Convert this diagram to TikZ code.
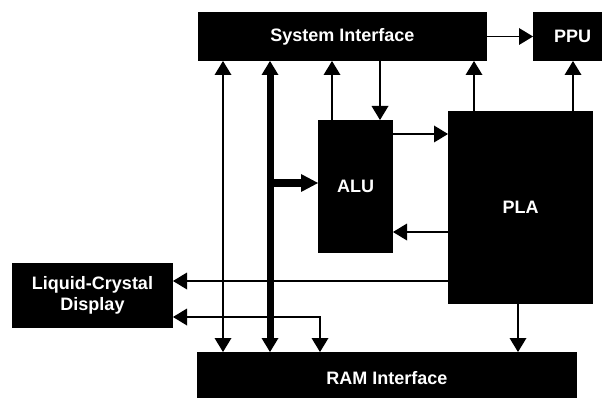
\documentclass[tikz,border=0pt]{standalone}
\usepackage{fontspec}
\setsansfont{Liberation Sans}
\usetikzlibrary{arrows.meta}

\begin{document}
\begin{tikzpicture}[
  x=1pt,y=-1pt,
  >={Triangle[length=14pt,width=17pt,line width=0pt]},
  blk/.style={fill=black,text=white,inner sep=0pt,outer sep=0pt,align=center,
    font=\sffamily\bfseries\fontsize{18}{20.5}\selectfont},
  ln/.style={->,line width=1.5pt},
  bus/.style={<->,line width=7pt}
]
\clip (0,0) rectangle (602,398);
% blocks
\node[blk,minimum width=289pt,minimum height=49pt] (si) at (342.5,36.5) {System Interface};
\node[blk,minimum width=79pt,minimum height=49pt] (ppu) at (572.5,36.5) {PPU};
\node[blk,minimum width=75pt,minimum height=133pt] (alu) at (355.5,186.5) {ALU};
\node[blk,minimum width=145pt,minimum height=193pt] (pla) at (520.5,207.5) {PLA};
\node[blk,minimum width=161pt,minimum height=65pt] (lcd) at (92.5,295.5) {Liquid-Crystal\\Display};
\node[blk,minimum width=380pt,minimum height=52pt] (ram) at (387,378) {RAM Interface};
% where the lines run
\coordinate (b1) at (223,0);
\coordinate (b2) at (270,0);
\coordinate (b3) at (320,0);
\coordinate (b4) at (332,0);
\coordinate (b5) at (380,0);
\coordinate (b6) at (474,0);
\coordinate (b7) at (518,0);
\coordinate (b8) at (573,0);
\coordinate (r1) at (0,134);
\coordinate (r2) at (0,183);
\coordinate (r3) at (0,232);
\coordinate (r4) at (0,281);
\coordinate (r5) at (0,317);
% connectors
\draw[ln] (si.east) -- (ppu.west);
\draw[ln,<->] (si.south -| b1) -- (ram.north -| b1);
\draw[bus] (si.south -| b2) -- (ram.north -| b2);
\draw[->,line width=8pt,>={Triangle[length=17pt,width=18pt,line width=0pt]}] (b2 |- r2) -- (alu.west |- r2);
\draw[ln] (alu.north -| b4) -- (si.south -| b4);
\draw[ln] (si.south -| b5) -- (alu.north -| b5);
\draw[ln] (alu.east |- r1) -- (pla.west |- r1);
\draw[ln] (pla.west |- r3) -- (alu.east |- r3);
\draw[ln] (pla.north -| b6) -- (si.south -| b6);
\draw[ln] (pla.north -| b8) -- (ppu.south -| b8);
\draw[ln] (pla.west |- r4) -- (lcd.east |- r4);
\draw[ln,<->] (lcd.east |- r5) -- (b3 |- r5) -- (ram.north -| b3);
\draw[ln] (pla.south -| b7) -- (ram.north -| b7);
\end{tikzpicture}
\end{document}
